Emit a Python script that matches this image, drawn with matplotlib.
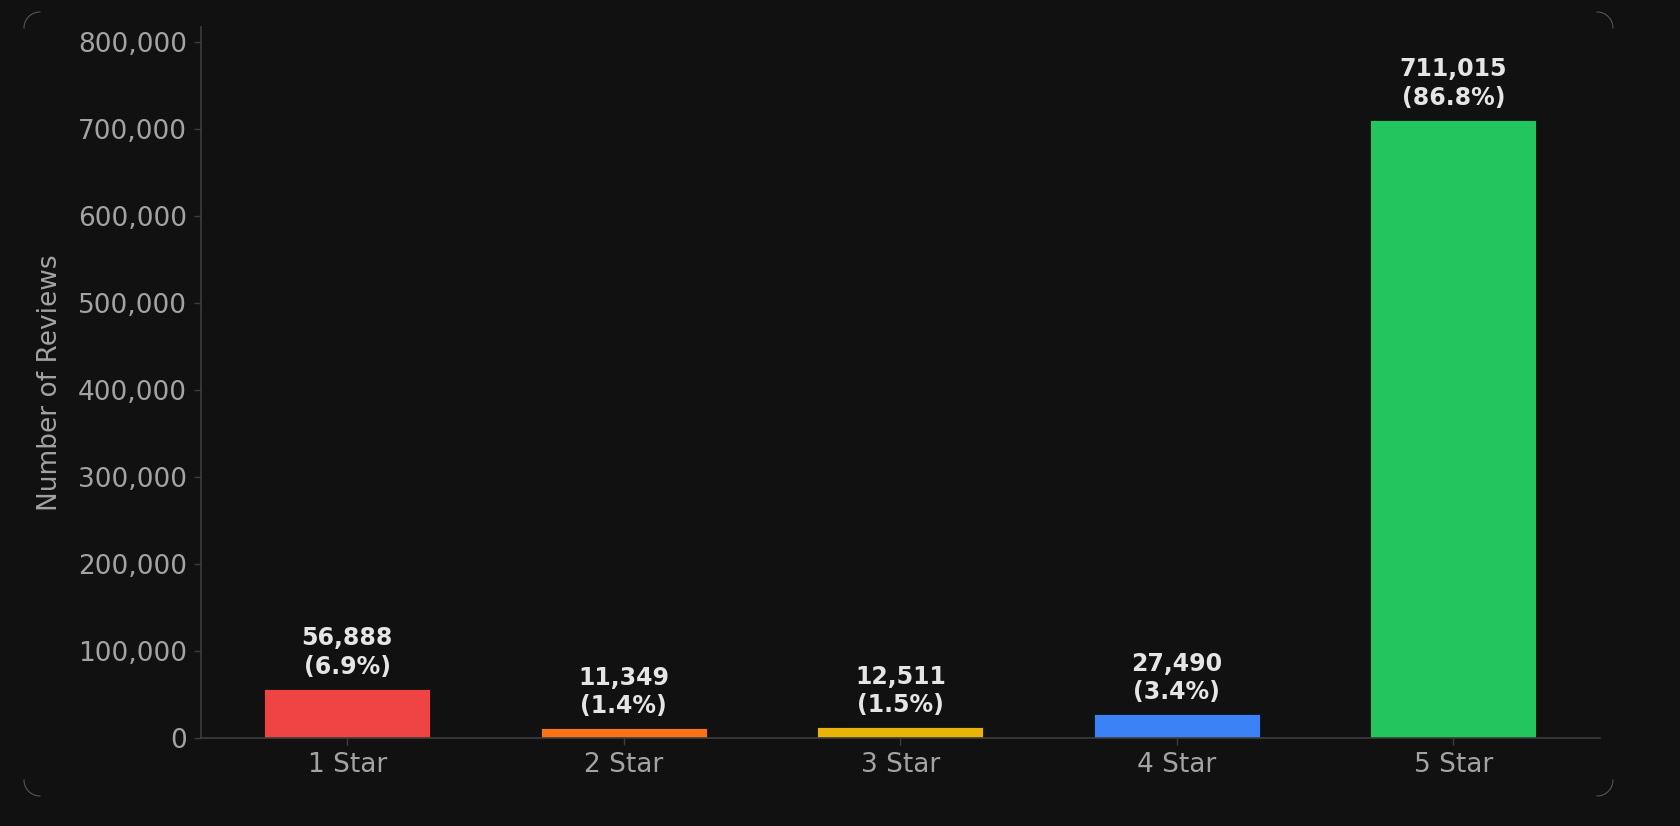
import numpy as np
import matplotlib
matplotlib.use("Agg")
import matplotlib.pyplot as plt
from matplotlib.ticker import FuncFormatter

# data
categories = ["1 Star", "2 Star", "3 Star", "4 Star", "5 Star"]
counts = [56888, 11349, 12511, 27490, 711015]
percents = [6.9, 1.4, 1.5, 3.4, 86.8]
bar_colors = ["#ef4444", "#f97316", "#eab308", "#3b82f6", "#22c55e"]

BG = "#111111"
TICK_COLOR = "#a3a3a3"
LABEL_COLOR = "#e5e5e5"
SPINE_COLOR = "#3d3d3d"

W, H = 1681, 826
fig = plt.figure(figsize=(W / 100, H / 100), dpi=100, facecolor=BG)
ax = fig.add_axes([200.7 / W, 1 - 738 / H, (1600 - 200.7) / W, (738 - 27) / H])
ax.set_facecolor(BG)

x = np.arange(len(categories))
bars = ax.bar(x, counts, width=0.6, color=bar_colors, edgecolor=BG, linewidth=0.6)

ax.set_ylim(0, max(counts) * 1.15)
ax.set_xticks(x)
ax.set_xticklabels(categories)
ax.yaxis.set_major_formatter(FuncFormatter(lambda v, p: f"{int(v):,}"))

for b, c, pct in zip(bars, counts, percents):
    ax.annotate(f"{c:,}\n({pct}%)", (b.get_x() + b.get_width() / 2, c),
                xytext=(0, 7), textcoords="offset points",
                ha="center", va="bottom", fontsize=17, fontweight="bold",
                color=LABEL_COLOR, linespacing=1.25)

ax.set_ylabel("Number of Reviews", fontsize=19, color=TICK_COLOR, labelpad=11)
ax.tick_params(axis="both", colors=TICK_COLOR, labelsize=19, length=5, width=1,
               pad=5)
ax.tick_params(axis="both", color=SPINE_COLOR)
for side in ["top", "right"]:
    ax.spines[side].set_visible(False)
for side in ["left", "bottom"]:
    ax.spines[side].set_color(SPINE_COLOR)
    ax.spines[side].set_linewidth(1.2)

# faint rounded corners of the card around the chart
deco = fig.add_axes([0, 0, 1, 1], zorder=-1)
deco.set_xlim(0, W)
deco.set_ylim(H, 0)
deco.axis("off")
r = 16
t = np.linspace(0, np.pi / 2, 30)
for cx, cy, sx, sy in [(24 + r, 12 + r, -1, -1), (1613 - r, 12 + r, 1, -1),
                       (24 + r, 796 - r, -1, 1), (1613 - r, 796 - r, 1, 1)]:
    deco.plot(cx + sx * r * np.cos(t), cy + sy * r * np.sin(t),
              color="#555555", linewidth=0.8)

fig.savefig("out.png", dpi=100, facecolor=BG)
